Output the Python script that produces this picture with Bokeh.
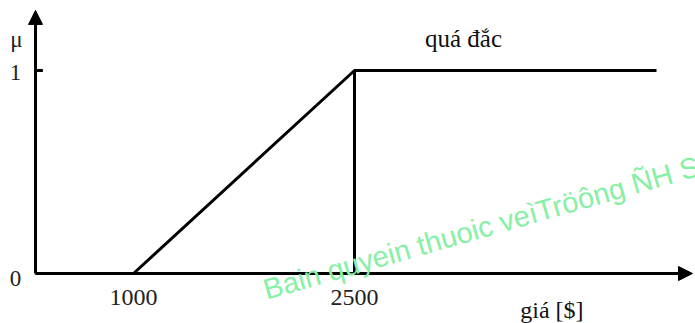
from bokeh.plotting import figure
from bokeh.models import Range1d, Arrow, NormalHead, Label
from bokeh.core.properties import value
from bokeh.embed import file_html
from bokeh.resources import INLINE
import math

# ---- data ----
curve_x = [1000, 2500, 4550]
curve_y = [0, 1, 1]
breakpoints = [1000, 2500]
breakpoint_labels = ["1000", "2500"]
mu_ticks = [0, 1]
mu_tick_labels = ["0", "1"]
set_label = "quá đắc"
x_title = "giá [$]"
y_title = "μ"
watermark = "Bain quyein thuoic veìTröông ÑH S"

x0 = 335          # where the vertical axis sits (in $)
x_end = 4794      # x arrow tip
y_top = 1.296     # y arrow tip

p = figure(width=695, height=323, output_backend="svg", toolbar_location=None,
           x_range=Range1d(97.3, 4814.5), y_range=Range1d(-0.2463, 1.3448),
           min_border=0)
p.axis.visible = False
p.grid.visible = False
p.outline_line_color = None
p.background_fill_color = "white"

# axes with arrows
p.add_layout(Arrow(end=NormalHead(size=14, fill_color="black", line_color="black"),
                   x_start=x0, y_start=0, x_end=x0, y_end=y_top,
                   line_width=3, line_color="black"))
p.add_layout(Arrow(end=NormalHead(size=14, fill_color="black", line_color="black"),
                   x_start=x0, y_start=0, x_end=x_end, y_end=0,
                   line_width=3, line_color="black"))
# tick at mu=1
p.segment(x0=[x0], y0=[1], x1=[x0 + 50], y1=[1], line_width=3, line_color="black")

# membership function
p.line([x0] + curve_x[:1], [0, 0], line_width=3, line_color="black")
p.line(curve_x, curve_y, line_width=3, line_color="black")
p.segment(x0=[breakpoints[1]], y0=[0], x1=[breakpoints[1]], y1=[1],
          line_width=3, line_color="black")

serif = value("Liberation Serif")
p.text(x=breakpoints, y=[0, 0], text=breakpoint_labels, text_font=serif,
       text_font_size="24px", text_align="center", text_baseline="middle",
       y_offset=24, text_color="#222222")
p.text(x=[x0, x0], y=mu_ticks, text=mu_tick_labels, text_font=serif,
       text_font_size="23px", text_align="center", text_baseline="middle",
       x_offset=-20, y_offset=[5, 2], text_color="#222222")
p.text(x=[x0], y=[1.153], text=[y_title], text_font=serif, text_font_size="23px",
       text_align="center", text_baseline="middle", x_offset=-19, text_color="#222222")
p.text(x=[3240], y=[1.16], text=[set_label], text_font=serif, text_font_size="25px",
       text_align="center", text_baseline="middle", text_color="#111111")
p.text(x=[3840], y=[0], text=[x_title], text_font=serif, text_font_size="24px",
       text_align="center", text_baseline="middle", y_offset=36, text_color="#111111")

p.add_layout(Label(x=268, y=18, x_units="screen", y_units="screen",
                   text=watermark, angle=math.radians(16),
                   text_font="Liberation Sans", text_font_size="29px",
                   text_color="#86F0A4"))

open("out.html", "w").write(file_html(p, INLINE))
